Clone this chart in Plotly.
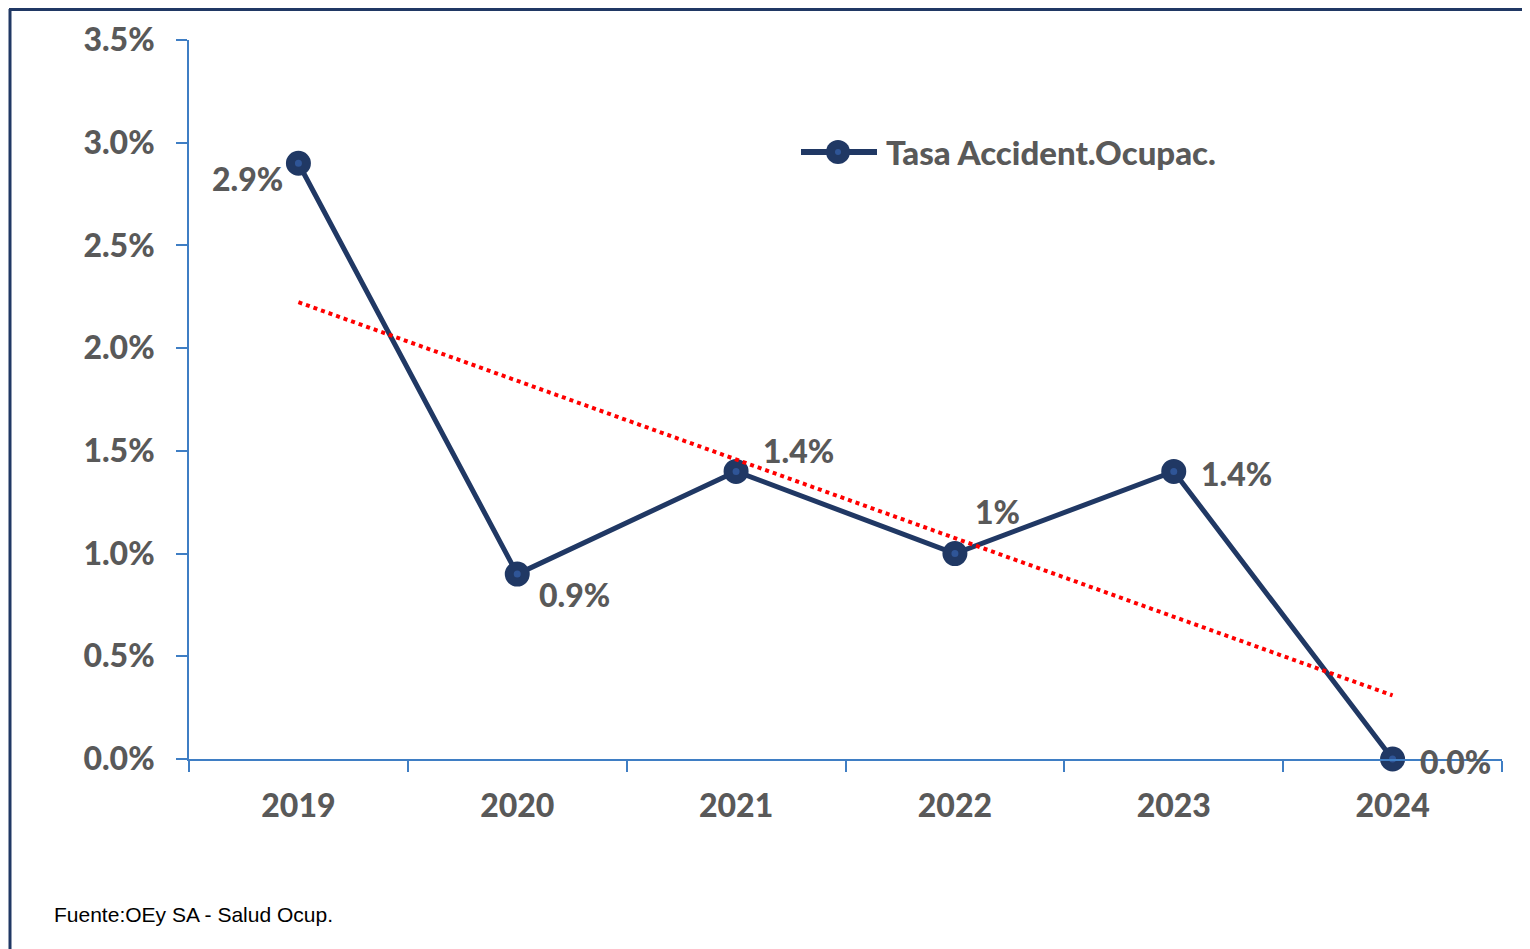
import numpy as np
import plotly.graph_objects as go

# ---- data ----
years = ["2019", "2020", "2021", "2022", "2023", "2024"]
rates = [0.029, 0.009, 0.014, 0.010, 0.014, 0.000]
labels = ["2.9%", "0.9%", "1.4%", "1%", "1.4%", "0.0%"]
series_name = "Tasa Accident.Ocupac."
source_note = "Fuente:OEy SA - Salud Ocup."
y_ticks = [0, 0.005, 0.01, 0.015, 0.02, 0.025, 0.03, 0.035]

# linear trendline (least squares, as in the spreadsheet trendline)
idx = np.arange(1, len(rates) + 1)
slope, intercept = np.polyfit(idx, rates, 1)
trend = list(slope * idx + intercept)

NAVY = "#203864"
AXIS = "#3F7EC4"
GRAY = "#595959"
FONT = "Lato"
WEIGHT = 900

OFF = 8  # page body margin
W, H = 1530 - OFF, 949 - OFF
# plot area in page pixels
PL, PR, PT, PB = 189, 1502, 40, 759
L, R, T, B = PL - OFF, PR - OFF, PT - OFF, PB - OFF


def px_x(p):
    return (p - PL) / (PR - PL)


def px_y(p):
    return (PB - p) / (PB - PT)


fig = go.Figure()
fig.add_trace(go.Scatter(
    x=years, y=rates, mode="lines+markers", name=series_name,
    line=dict(color=NAVY, width=5),
    marker=dict(size=16, color="#2F5597", line=dict(color=NAVY, width=9)),
    showlegend=False, cliponaxis=False,
))
fig.add_trace(go.Scatter(
    x=years, y=trend, mode="lines", name="trend",
    line=dict(color="#FF0000", width=4, dash="dot"),
    showlegend=False, hoverinfo="skip",
))

# data labels
offsets = [(-13, -15, "right"), (20, -20, "left"), (25, 21, "left"),
           (18, 42, "left"), (25, -2, "left"), (25, -2, "left")]
annotations = []
for i, (v, lab, (dx, dy, anc)) in enumerate(zip(rates, labels, offsets)):
    annotations.append(dict(
        x=i, y=v, xref="x", yref="y", text=lab, showarrow=False,
        xanchor=anc, yanchor="middle", xshift=dx, yshift=dy,
        font=dict(family=FONT, size=32, color=GRAY, weight=WEIGHT),
    ))

# legend text
annotations.append(dict(
    x=px_x(884), y=px_y(152), xref="paper", yref="paper", text=series_name,
    showarrow=False, xanchor="left", yanchor="middle",
    font=dict(family=FONT, size=33, color=GRAY, weight=WEIGHT),
))
# source note
annotations.append(dict(
    x=px_x(52), y=px_y(914), xref="paper", yref="paper", text=source_note,
    showarrow=False, xanchor="left", yanchor="middle",
    font=dict(family="Liberation Sans", size=21, color="#000000"),
))

shapes = [
    # chart border (left and top)
    dict(type="line", xref="paper", yref="paper", x0=px_x(10), x1=px_x(10),
         y0=px_y(9), y1=px_y(960), line=dict(color=NAVY, width=3)),
    dict(type="line", xref="paper", yref="paper", x0=px_x(9), x1=px_x(1540),
         y0=px_y(9.5), y1=px_y(9.5), line=dict(color=NAVY, width=3)),
    # legend symbol
    dict(type="line", xref="paper", yref="paper", x0=px_x(801), x1=px_x(877),
         y0=px_y(152), y1=px_y(152), line=dict(color=NAVY, width=6)),
    dict(type="circle", xref="paper", yref="paper", x0=px_x(826), x1=px_x(850),
         y0=px_y(164), y1=px_y(140), fillcolor=NAVY, line=dict(width=0)),
    dict(type="circle", xref="paper", yref="paper", x0=px_x(835), x1=px_x(841),
         y0=px_y(155), y1=px_y(149), fillcolor="#2F5597", line=dict(width=0)),
]

fig.update_layout(
    width=W, height=H,
    margin=dict(l=L, r=W - R, t=T, b=H - B, pad=0),
    paper_bgcolor="white", plot_bgcolor="white",
    showlegend=False,
    annotations=annotations, shapes=shapes,
    xaxis=dict(
        type="category", range=[-0.5, 5.5], tickson="boundaries",
        showline=True, linecolor=AXIS, linewidth=2,
        ticks="outside", ticklen=11, tickwidth=2, tickcolor=AXIS,
        showgrid=False, zeroline=False,
        tickfont=dict(family=FONT, size=32, color=GRAY, weight=WEIGHT),
        ticklabelstandoff=18,
    ),
    yaxis=dict(
        range=[0, 0.035], tickvals=y_ticks, tickformat=".1%",
        showline=True, linecolor=AXIS, linewidth=2,
        ticks="outside", ticklen=11, tickwidth=2, tickcolor=AXIS,
        showgrid=False, zeroline=False,
        tickfont=dict(family=FONT, size=32, color=GRAY, weight=WEIGHT),
        ticklabelstandoff=15,
    ),
)

fig.write_html("out.html")
